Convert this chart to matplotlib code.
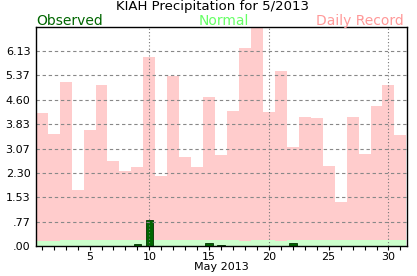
import matplotlib
matplotlib.use("Agg")
import matplotlib.pyplot as plt
import numpy as np

days = list(range(1, 32))
record = [4.18, 3.51, 5.17, 1.75, 3.64, 5.06, 2.66, 2.37, 2.48, 5.96,
          2.19, 5.35, 2.79, 2.48, 4.68, 2.86, 4.25, 6.23, 6.95, 4.21,
          5.51, 3.13, 4.05, 4.02, 2.51, 1.40, 4.05, 2.89, 4.40, 5.06, 3.48]
normal = [0.16, 0.16, 0.19, 0.19, 0.19, 0.19, 0.19, 0.19, 0.19, 0.19,
          0.19, 0.19, 0.19, 0.19, 0.19, 0.19, 0.19, 0.16, 0.19, 0.19,
          0.16, 0.19, 0.19, 0.19, 0.19, 0.19, 0.19, 0.19, 0.19, 0.19, 0.19]
observed = [0, 0, 0, 0, 0, 0, 0, 0, 0.06, 0.82,
            0, 0, 0, 0, 0.10, 0.04, 0, 0, 0, 0,
            0, 0.10, 0, 0, 0, 0, 0, 0, 0, 0, 0]
ymax = 6.90
ytick_vals = [ymax * k / 9 for k in range(9)]
ytick_labels = [".00", ".77", "1.53", "2.30", "3.07", "3.83", "4.60", "5.37", "6.13"]

fig = plt.figure(figsize=(4.17, 2.76), dpi=100)
ax = fig.add_axes([0.0863, 0.1087, 0.8897, 0.7946])

ax.bar(days, record, width=1.0, color="#ffcccc", linewidth=0, zorder=1)
ax.bar(days, normal, width=1.0, color="#ccffcc", linewidth=0, zorder=2)
ax.bar(days, observed, width=0.62, color="#006600", edgecolor="#003300",
       linewidth=0.6, zorder=3)

ax.set_xlim(0.52, 31.55)
ax.set_ylim(0, ymax)
ax.set_yticks(ytick_vals)
ax.set_yticklabels(ytick_labels)
ax.set_xticks([5, 10, 15, 20, 25, 30])
ax.set_xticks(days, minor=True)
ax.tick_params(axis="y", length=0, labelsize=8, pad=4)
ax.tick_params(axis="x", which="both", direction="out", length=3, width=0.8, labelsize=8, pad=1)

for v in ytick_vals[1:]:
    ax.axhline(v, color="#888888", linestyle=(0, (3, 2.5)), linewidth=0.8, zorder=4)
for d in [10, 20, 30]:
    ax.axvline(d, color="#777777", linestyle=(0, (1, 2)), linewidth=0.8, zorder=4)

for s in ax.spines.values():
    s.set_linewidth(1.0)
    s.set_zorder(5)

ax.set_xlabel("May 2013", fontsize=8, labelpad=0)

fig.text(0.51, 0.963, "KIAH Precipitation for 5/2013", ha="center", va="baseline", fontsize=9.5)
fig.text(0.0863, 0.911, "Observed", ha="left", va="baseline", fontsize=10, color="#006600")
fig.text(0.537, 0.911, "Normal", ha="center", va="baseline", fontsize=10, color="#66ff66")
fig.text(0.968, 0.911, "Daily Record", ha="right", va="baseline", fontsize=10, color="#ff9999")

fig.savefig("out.png", dpi=100)
